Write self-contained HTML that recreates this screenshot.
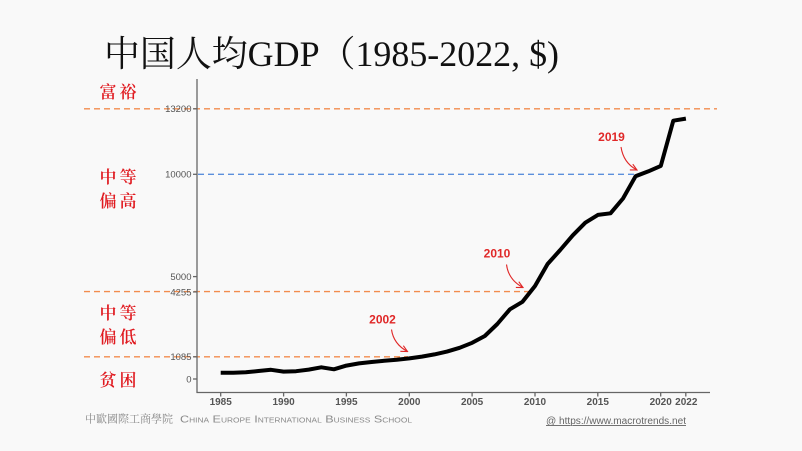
<!DOCTYPE html>
<html>
<head>
<meta charset="utf-8">
<style>
  html, body { margin:0; padding:0; background:#f9f9f9; }
  svg { display:block; }
</style>
</head>
<body>
<svg width="802" height="451" viewBox="0 0 802 451" xmlns="http://www.w3.org/2000/svg">
  <defs>
    <marker id="ah" viewBox="0 0 10 10" refX="9" refY="5" markerWidth="8" markerHeight="8" orient="auto" markerUnits="userSpaceOnUse">
      <path d="M1,1 L9,5 L1,9" fill="none" stroke="#e02828" stroke-width="1.4"/>
    </marker>
  </defs>
  <rect x="0" y="0" width="802" height="451" fill="#f9f9f9"/>

  <!-- Title -->
  <text x="104" y="66" font-family="'Liberation Serif','Noto Serif CJK SC',serif" font-size="36" fill="#111" textLength="455" lengthAdjust="spacingAndGlyphs">中国人均GDP（1985-2022, $)</text>

  <!-- Reference dashed lines -->
  <g stroke-width="1.4" stroke-dasharray="6,4" fill="none">
    <line x1="84" y1="108.8" x2="717" y2="108.8" stroke="#f28c4e"/>
    <line x1="198" y1="174.3" x2="636" y2="174.3" stroke="#5b8fdc"/>
    <line x1="84" y1="291.6" x2="530" y2="291.6" stroke="#f28c4e"/>
    <line x1="84" y1="356.8" x2="408" y2="356.8" stroke="#f28c4e"/>
  </g>

  <!-- Axes -->
  <g stroke="#666" stroke-width="1.3">
    <line x1="197" y1="79" x2="197" y2="393"/>
    <line x1="196.5" y1="392.5" x2="710" y2="392.5"/>
    <!-- y ticks -->
    <line x1="193" y1="108.8" x2="197" y2="108.8"/>
    <line x1="193" y1="174.3" x2="197" y2="174.3"/>
    <line x1="193" y1="276.6" x2="197" y2="276.6"/>
    <line x1="193" y1="291.9" x2="197" y2="291.9"/>
    <line x1="193" y1="356.8" x2="197" y2="356.8"/>
    <line x1="193" y1="379" x2="197" y2="379"/>
    <!-- x ticks -->
    <line x1="220.7" y1="392.5" x2="220.7" y2="396.5"/>
    <line x1="283.6" y1="392.5" x2="283.6" y2="396.5"/>
    <line x1="346.4" y1="392.5" x2="346.4" y2="396.5"/>
    <line x1="409.3" y1="392.5" x2="409.3" y2="396.5"/>
    <line x1="472.1" y1="392.5" x2="472.1" y2="396.5"/>
    <line x1="535" y1="392.5" x2="535" y2="396.5"/>
    <line x1="597.8" y1="392.5" x2="597.8" y2="396.5"/>
    <line x1="660.7" y1="392.5" x2="660.7" y2="396.5"/>
    <line x1="685.8" y1="392.5" x2="685.8" y2="396.5"/>
  </g>

  <!-- y tick labels -->
  <g font-family="'Liberation Sans',sans-serif" font-size="9.5" fill="#555" text-anchor="end">
    <text x="191.5" y="112.2">13200</text>
    <text x="191.5" y="177.7">10000</text>
    <text x="191.5" y="280">5000</text>
    <text x="191.5" y="295.3">4255</text>
    <text x="191.5" y="360.2">1085</text>
    <text x="191.5" y="382.4">0</text>
  </g>

  <!-- x tick labels -->
  <g font-family="'Liberation Sans',sans-serif" font-size="10" font-weight="bold" fill="#555" text-anchor="middle">
    <text x="220.7" y="404.8">1985</text>
    <text x="283.6" y="404.8">1990</text>
    <text x="346.4" y="404.8">1995</text>
    <text x="409.3" y="404.8">2000</text>
    <text x="472.1" y="404.8">2005</text>
    <text x="535" y="404.8">2010</text>
    <text x="597.8" y="404.8">2015</text>
    <text x="660.7" y="404.8">2020</text>
    <text x="686.3" y="404.8">2022</text>
  </g>

  <!-- GDP curve -->
  <polyline fill="none" stroke="#000" stroke-width="4" stroke-linejoin="round" stroke-linecap="butt"
    points="220.7,372.7 233.3,372.8 245.8,372.3 258.4,371 271,369.8 283.6,371.6 296.1,371.2 308.7,369.6 321.3,367.3 333.9,369.3 346.4,365.6 359,363.4 371.6,362 384.2,360.8 396.7,359.8 409.3,358.4 421.9,356.6 434.4,354.4 447,351.6 459.6,347.8 472.2,342.8 484.8,336 497.3,324 509.9,309.3 522.5,301.8 535,286 547.6,264 560.2,250 572.8,235.3 585.3,222.7 597.9,214.9 610.5,213.3 623,198.5 635.6,176.2 648.2,171.4 660.8,165.9 673.3,120.7 685.9,118.6"/>

  <!-- Annotations -->
  <g font-family="'Liberation Sans',sans-serif" font-size="12" font-weight="bold" fill="#e02828" text-anchor="middle">
    <text x="382.5" y="323.6">2002</text>
    <text x="497" y="257.6">2010</text>
    <text x="611.5" y="141">2019</text>
  </g>
  <g fill="none" stroke="#e02828" stroke-width="1.1">
    <path d="M391.5,329.5 Q393.5,344 407.5,351.5" marker-end="url(#ah)"/>
    <path d="M506.5,264.5 Q508.5,280 523,287.5" marker-end="url(#ah)"/>
    <path d="M621,147 Q623.5,163 637,170" marker-end="url(#ah)"/>
  </g>

  <!-- Red category labels -->
  <g font-family="'Noto Serif CJK SC','Noto Serif CJK TC',serif" font-size="17" font-weight="600" fill="#e0191f" text-anchor="middle" letter-spacing="3">
    <text x="119.5" y="98">富裕</text>
    <text x="119.5" y="183">中等</text>
    <text x="119.5" y="207">偏高</text>
    <text x="119.5" y="319">中等</text>
    <text x="119.5" y="343">偏低</text>
    <text x="119.5" y="386">贫困</text>
  </g>

  <!-- Footer -->
  <text x="85" y="422.5" font-family="'Noto Serif CJK TC','Noto Serif CJK SC',serif" font-size="11" fill="#8a8a8a" textLength="88" lengthAdjust="spacingAndGlyphs">中歐國際工商學院</text>
  <text x="180" y="422.5" font-family="'Liberation Sans',sans-serif" font-size="10.5" fill="#8a8a8a" style="font-variant:small-caps" textLength="232" lengthAdjust="spacingAndGlyphs">China Europe International Business School</text>
  <text x="546" y="424" font-family="'Liberation Sans',sans-serif" font-size="10" fill="#666" text-decoration="underline" textLength="140" lengthAdjust="spacingAndGlyphs">@ https://www.macrotrends.net</text>
  <line x1="546" y1="425.5" x2="686" y2="425.5" stroke="#777" stroke-width="0.8"/>
</svg>
</body>
</html>
